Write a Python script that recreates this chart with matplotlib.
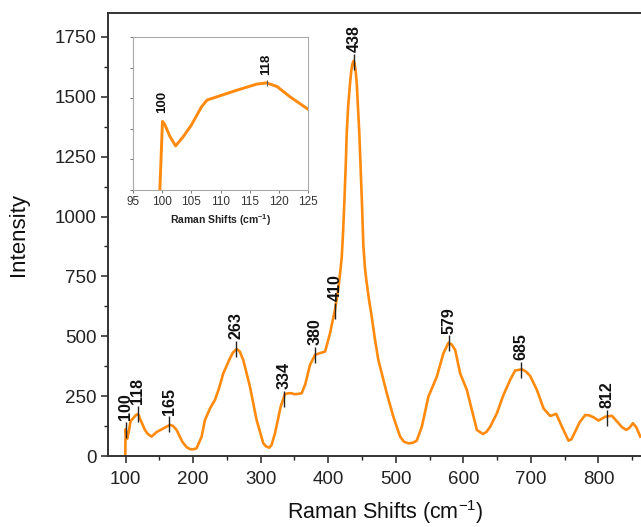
import matplotlib.pyplot as plt
from matplotlib.ticker import MultipleLocator

plt.rcParams['font.family'] = ['Liberation Sans', 'DejaVu Sans']
plt.rcParams['mathtext.default'] = 'regular'

# Raman spectrum
shift = [99.6, 100.05, 100.45, 101.3, 102.3, 103.6, 105.0, 106.75, 107.7, 109.3,
         112.8, 116.2, 117.9, 119.7, 121.95, 125, 128.6, 133, 138.5, 145.9,
         153.3, 159, 165.6, 170, 175.5, 183.9, 190, 195, 200, 205,
         212.6, 217.5, 225, 232.3, 238, 244.6, 254.5, 259, 264.4, 269,
         274.2, 284.1, 294, 303.9, 308, 312.7, 316, 321.2, 329.6, 336,
         341, 345.9, 350, 354.2, 360.7, 366, 373, 380.4, 386.8, 395.3,
         402.7, 405, 410, 415, 418, 420, 422, 424, 426, 427.4,
         429.5, 432.3, 434, 435.5, 437.5, 439, 440.5, 442.2, 444, 446,
         448, 450, 452, 454.5, 457, 460.5, 464.4, 469, 474.2, 486.7,
         496.4, 506.4, 512, 518.7, 525, 531, 538.5, 548.3, 560.7, 570.5,
         578, 583, 587.9, 595.3, 605.2, 612.6, 620, 628.9, 634, 639.7,
         649.6, 659.4, 669.3, 676.7, 686.6, 693, 699, 708.9, 718.7, 728.6,
         737.5, 746, 755.7, 760, 765.6, 772, 780.4, 786, 792.7, 800.1,
         810, 820, 829.8, 835, 841.2, 846, 851, 856, 862]
intensity = [0, 112, 107, 88, 72, 87, 106, 136, 147, 152,
             163, 173, 175, 169, 152, 132, 109, 92, 81, 100,
             111, 120, 130, 126, 109, 60, 38, 29, 28, 32,
             81, 150, 199, 234, 280, 345, 408, 432, 447, 437,
             401, 290, 150, 53, 40, 35, 45, 95, 206, 259,
             262, 262, 258, 259, 262, 300, 380, 422, 429, 436,
             513, 545, 610, 700, 775, 830, 935, 1070, 1220, 1349,
             1460, 1557, 1605, 1635, 1650, 1640, 1610, 1557, 1460, 1349,
             1200, 1050, 880, 780, 722, 650, 582, 490, 401, 262,
             164, 81, 60, 53, 55, 64, 122, 248, 331, 429,
             473, 465, 443, 345, 276, 192, 109, 92, 100, 122,
             178, 255, 318, 357, 362, 352, 334, 276, 199, 167,
             176, 122, 64, 70, 102, 140, 171, 170, 162, 148,
             164, 168, 137, 120, 109, 118, 137, 120, 81]

peak_x = [100, 118, 165, 263, 334, 380, 410, 438, 579, 685, 812]
peak_y = [109, 175, 132, 447, 240, 422, 605, 1645, 470, 360, 160]
peak_labels = ['100', '118', '165', '263', '334', '380', '410', '438', '579', '685', '812']

inset_x = [100.05, 117.9]
inset_y = [112, 175]
inset_labels = ['100', '118']

orange = '#ff8a0d'

fig = plt.figure(figsize=(6.41, 5.27), dpi=100)
ax = fig.add_axes([0.1685, 0.1347, 0.8315, 0.8406])
ax.plot(shift, intensity, color=orange, lw=1.9, solid_joinstyle='round')
ax.plot(peak_x, peak_y, '|', color='#222222', ms=12, mew=1.0)
for x, y, lab in zip(peak_x, peak_y, peak_labels):
    ax.annotate(lab, (x, y), xytext=(0, 7), textcoords='offset points',
                rotation=90, ha='center', va='bottom', fontsize=11.5,
                fontweight='bold', color='#111111')

ax.set_xlim(74, 863)
ax.set_ylim(0, 1850)
ax.xaxis.set_major_locator(MultipleLocator(100))
ax.xaxis.set_minor_locator(MultipleLocator(50))
ax.yaxis.set_major_locator(MultipleLocator(250))
ax.yaxis.set_minor_locator(MultipleLocator(125))
ax.tick_params(which='major', direction='out', length=5, width=1.1,
               labelsize=13.5, colors='#222222', pad=3)
ax.tick_params(axis='x', which='major', pad=6)
ax.tick_params(which='minor', direction='out', length=3, width=1.0, colors='#222222')
for side in ['left', 'bottom', 'top']:
    ax.spines[side].set_linewidth(1.4)
    ax.spines[side].set_color('#333333')
ax.spines['right'].set_visible(False)
ax.set_xlabel('Raman Shifts (cm$^{-1}$)', fontsize=15.5, color='#111111')
ax.set_ylabel('Intensity', fontsize=16, color='#111111')
ax.xaxis.set_label_coords(0.52, -0.094)
ax.yaxis.set_label_coords(-0.148, 0.5)

# inset zoom on the low wavenumber edge
ins = fig.add_axes([0.2075, 0.6395, 0.273, 0.2903])
ins.plot(shift, intensity, color=orange, lw=2.1, solid_joinstyle='round')
ins.plot([inset_x[1]], [inset_y[1]], '|', color='#555555', ms=4, mew=0.8)
for x, y, lab in zip(inset_x, inset_y, inset_labels):
    ins.annotate(lab, (x, y), xytext=(0, 6), textcoords='offset points',
                 rotation=90, ha='center', va='bottom', fontsize=9.5,
                 fontweight='bold', color='#111111')
ins.set_xlim(95, 125)
ins.set_ylim(0, 250)
ins.xaxis.set_major_locator(MultipleLocator(5))
ins.yaxis.set_major_locator(MultipleLocator(50))
ins.set_yticklabels([])
ins.tick_params(direction='out', length=2.5, width=0.7, labelsize=8.5,
                colors='#777777', labelcolor='#333333', pad=2)
for side in ins.spines.values():
    side.set_color('#aaaaaa')
    side.set_linewidth(0.8)
ins.set_xlabel('Raman Shifts (cm$^{-1}$)', fontsize=7.5, fontweight='bold',
               color='#222222', labelpad=3)

fig.savefig('out.png', dpi=100, facecolor='w')
